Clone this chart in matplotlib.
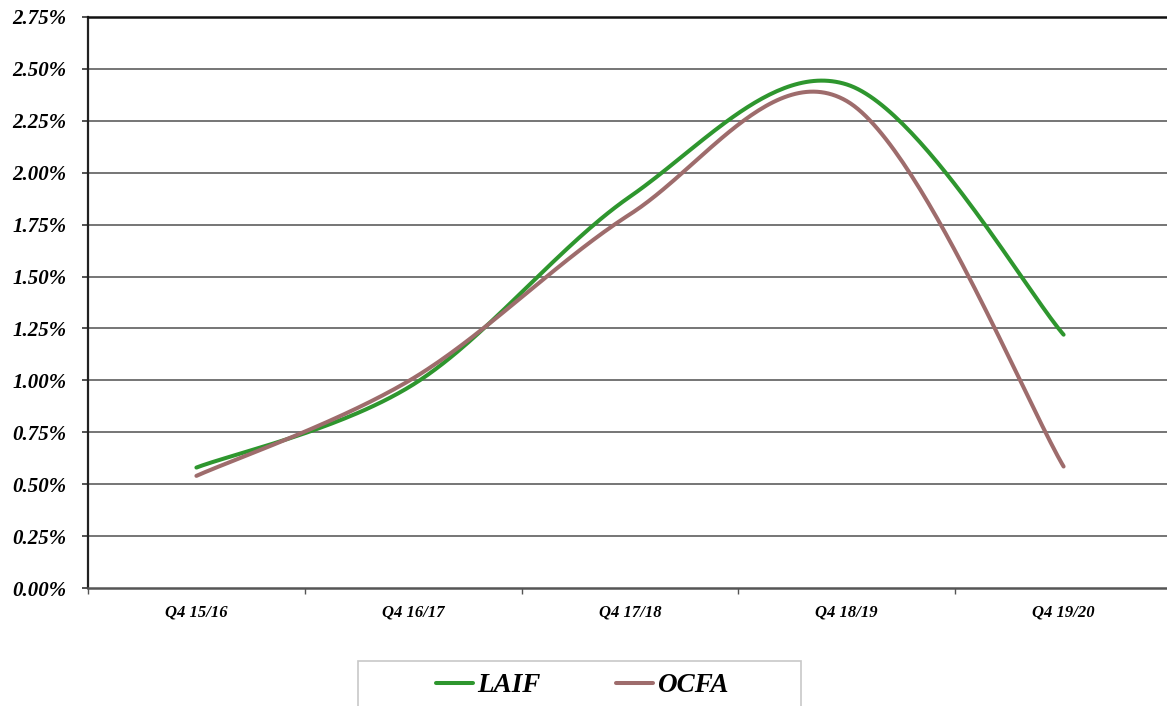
import matplotlib
matplotlib.use("Agg")
import matplotlib.pyplot as plt
from matplotlib.patches import Rectangle
from matplotlib.ticker import FuncFormatter, MultipleLocator, FixedLocator
import numpy as np

# quarters on the x axis
quarters = ["Q4 15/16", "Q4 16/17", "Q4 17/18", "Q4 18/19", "Q4 19/20"]

# yields in percent
laif = [0.58, 0.98, 1.885, 2.425, 1.22]
ocfa = [0.54, 1.01, 1.80, 2.345, 0.585]

plt.rcParams['font.family'] = ['Liberation Serif', 'DejaVu Serif']


def smooth(xs, ys, n=60):
    # Excel style smoothed line: cubic bezier with catmull-rom control points
    xs = np.asarray(xs, float)
    ys = np.asarray(ys, float)
    px = np.concatenate([[xs[0]], xs, [xs[-1]]])
    py = np.concatenate([[ys[0]], ys, [ys[-1]]])
    t = np.linspace(0, 1, n)
    outx, outy = [], []
    for i in range(1, len(px) - 2):
        x0, y0 = px[i], py[i]
        x3, y3 = px[i + 1], py[i + 1]
        x1 = x0 + (px[i + 1] - px[i - 1]) / 6
        y1 = y0 + (py[i + 1] - py[i - 1]) / 6
        x2 = x3 - (px[i + 2] - px[i]) / 6
        y2 = y3 - (py[i + 2] - py[i]) / 6
        bx = (1-t)**3*x0 + 3*(1-t)**2*t*x1 + 3*(1-t)*t**2*x2 + t**3*x3
        by = (1-t)**3*y0 + 3*(1-t)**2*t*y1 + 3*(1-t)*t**2*y2 + t**3*y3
        outx.extend(bx)
        outy.extend(by)
    return np.array(outx), np.array(outy)


W, H = 1167, 706
fig = plt.figure(figsize=(W / 100, H / 100), dpi=100)
ax = fig.add_axes([88 / W, 1 - 588 / H, (1172 - 88) / W, 571 / H])

x = np.arange(len(quarters))
sx, sy = smooth(x, laif)
ax.plot(sx, sy, color='#2e962e', lw=2.9, solid_capstyle='round', label='LAIF', zorder=3)
sx, sy = smooth(x, ocfa)
ax.plot(sx, sy, color='#9e6c6c', lw=2.9, solid_capstyle='round', label='OCFA', zorder=3)

ax.set_xlim(-0.5, len(quarters) - 0.5)
ax.set_ylim(0, 2.75)

# grid lines
for v in np.arange(0.25, 2.5001, 0.25):
    ax.axhline(v, color='#6a6a6a', lw=1.3, zorder=1)

ax.yaxis.set_major_locator(MultipleLocator(0.25))
ax.yaxis.set_major_formatter(FuncFormatter(lambda v, p: f"{v:.2f}%"))
ax.tick_params(axis='y', length=4.5, width=1.2, color='#333333', pad=11,
               labelsize=15)
for lab in ax.get_yticklabels():
    lab.set_fontweight('bold')
    lab.set_fontstyle('italic')

ax.set_xticks(x)
ax.set_xticklabels(quarters, fontsize=12, fontweight='bold', fontstyle='italic')
ax.tick_params(axis='x', which='major', length=0, pad=12)
ax.xaxis.set_minor_locator(FixedLocator(np.arange(-0.5, len(quarters), 1.0)))
ax.tick_params(axis='x', which='minor', length=4, width=1, color='#555555')

ax.spines['right'].set_visible(False)
ax.spines['left'].set_linewidth(1.6)
ax.spines['left'].set_color('#222222')
ax.spines['top'].set_linewidth(1.8)
ax.spines['top'].set_color('#111111')
ax.spines['bottom'].set_linewidth(1.8)
ax.spines['bottom'].set_color('#555555')

# legend box, cut off at the bottom edge like the source
fig.patches.append(Rectangle((358 / W, -0.05), (801 - 358) / W, (706 - 661) / H + 0.05,
                             transform=fig.transFigure, fill=False,
                             edgecolor='#c8c8c8', lw=1.2))
fig.legend(loc='center left', bbox_to_anchor=(436 / W, 1 - 686 / H), ncol=2,
           frameon=False, borderpad=0, borderaxespad=0, handlelength=1.36,
           handletextpad=0.15, columnspacing=2.8,
           prop={'size': 19.5, 'weight': 'bold', 'style': 'italic'})

fig.savefig('out.png', dpi=100)
